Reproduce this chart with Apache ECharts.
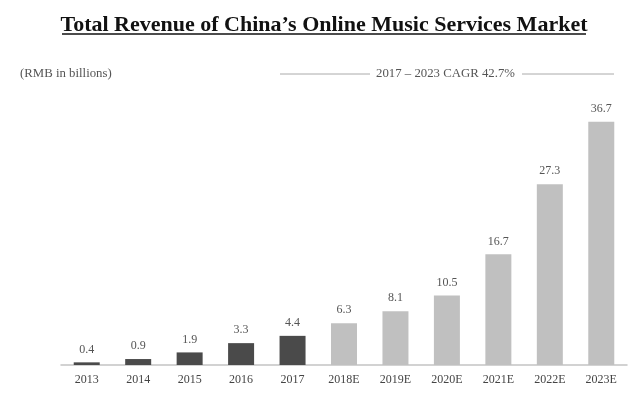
<!DOCTYPE html>
<html><head><meta charset="utf-8">
<script src="https://cdn.jsdelivr.net/npm/echarts@6/dist/echarts.min.js"></script>
<style>html,body{margin:0;padding:0;background:#fff}#c{width:640px;height:396px}</style>
</head><body><div id="c"></div>
<script>
const categories = ['2013','2014','2015','2016','2017','2018E','2019E','2020E','2021E','2022E','2023E'];
const revenue = [0.4, 0.9, 1.9, 3.3, 4.4, 6.3, 8.1, 10.5, 16.7, 27.3, 36.7];
const isEstimate = [false,false,false,false,false,true,true,true,true,true,true];
const titleText = 'Total Revenue of China\u2019s Online Music Services Market';
const unitText = '(RMB in billions)';
const cagrText = '2017 \u2013 2023 CAGR 42.7%';

const chart = echarts.init(document.getElementById('c'), null, {renderer:'canvas'});
const serif = '"Liberation Serif", "DejaVu Serif", serif';
chart.setOption({
  animation:false,
  backgroundColor:'#fff',
  graphic:[
    {type:'text', x:324, y:14, style:{text:titleText, font:'bold 22px '+serif, fill:'#111', align:'center', verticalAlign:'top'}},
    {type:'line', shape:{x1:62, y1:34, x2:586, y2:34}, style:{stroke:'#111', lineWidth:1.6}},
    {type:'text', x:20, y:74, style:{text:unitText, font:'12.8px '+serif, fill:'#555', align:'left', verticalAlign:'middle'}},
    {type:'line', shape:{x1:280, y1:74, x2:370, y2:74}, style:{stroke:'#aaa', lineWidth:1}},
    {type:'text', x:445.5, y:74, style:{text:cagrText, font:'12.8px '+serif, fill:'#555', align:'center', verticalAlign:'middle'}},
    {type:'line', shape:{x1:522, y1:74, x2:614, y2:74}, style:{stroke:'#aaa', lineWidth:1}}
  ],
  grid:{left:61, right:13, top:100, bottom:31},
  xAxis:{
    type:'category', data:categories,
    axisLine:{lineStyle:{color:'#c4c4c4', width:1.5}},
    axisTick:{show:false},
    axisLabel:{fontFamily:serif, fontSize:12, color:'#444', margin:9}
  },
  yAxis:{type:'value', min:0, max:40, show:false, splitLine:{show:false}},
  series:[{
    type:'bar', barWidth:26,
    data:revenue.map((v,i)=>({value:v, itemStyle:{color:isEstimate[i]?'#c0c0c0':'#4a4a4a'}})),
    label:{show:true, position:'top', distance:7, fontFamily:serif, fontSize:12, color:'#555'}
  }]
});
</script></body></html>
